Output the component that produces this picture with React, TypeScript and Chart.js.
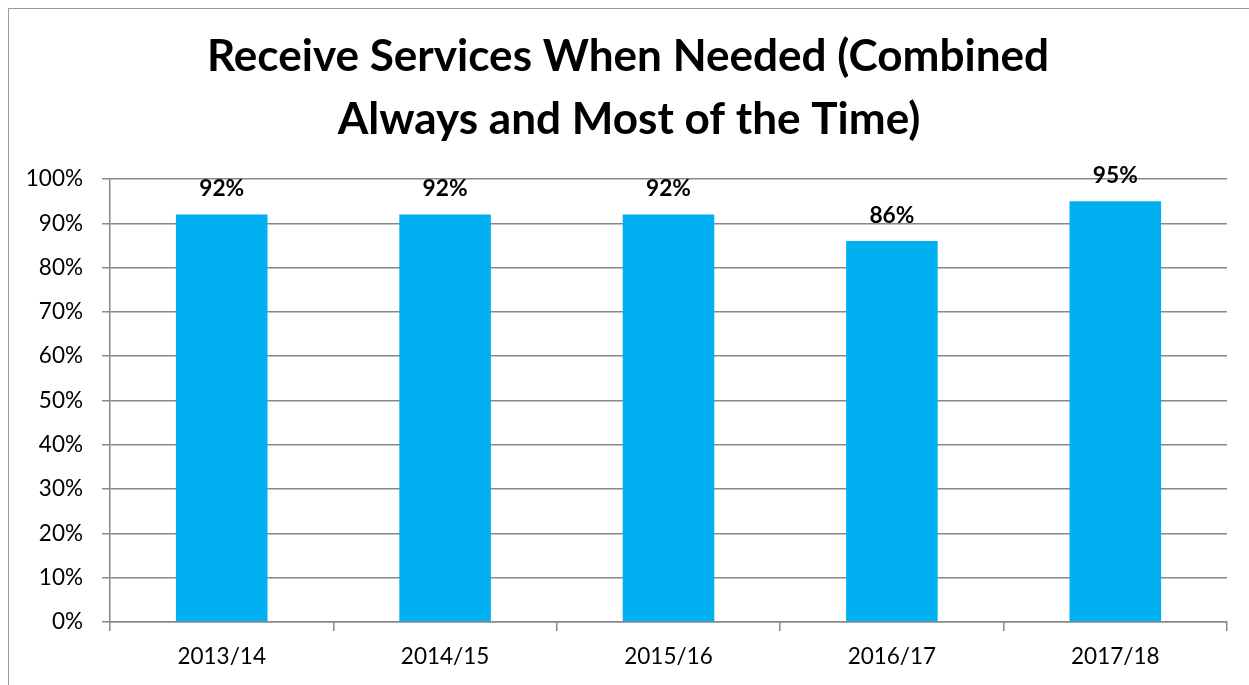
import React, { useEffect, useRef } from "react";
import { Chart, registerables } from "chart.js";

Chart.register(...registerables);

const titleLines = ["Receive Services When Needed (Combined", "Always and Most of the Time)"];
const categories = ["2013/14", "2014/15", "2015/16", "2016/17", "2017/18"];
const values = [92, 92, 92, 86, 95];
const yTicks = [0, 10, 20, 30, 40, 50, 60, 70, 80, 90, 100];

const FAMILY = "Lato, Carlito, Calibri, 'Open Sans', sans-serif";

function fitSize(text: string, target: number, weight: string): number {
  const c = document.createElement("canvas");
  const ctx = c.getContext("2d")!;
  ctx.font = `${weight} 100px ${FAMILY}`;
  const w = ctx.measureText(text).width;
  return (100 * target) / w;
}

export default function App() {
  const ref = useRef<HTMLCanvasElement | null>(null);

  useEffect(() => {
    if (!ref.current) return;
    const tickSize = (fitSize("100%", 57, "normal") + fitSize("2014/15", 89, "normal")) / 2;
    const labelSize = fitSize("92%", 45, "bold");
    const titleSize = (fitSize(titleLines[0], 835, "bold") + fitSize(titleLines[1], 588, "bold")) / 2;

    const titlePlugin = {
      id: "twoLineTitle",
      afterDraw(chart: any) {
        const ctx = chart.ctx;
        ctx.save();
        ctx.font = `bold ${titleSize}px ${FAMILY}`;
        ctx.fillStyle = "#000";
        ctx.textAlign = "center";
        ctx.textBaseline = "alphabetic";
        ctx.fillText(titleLines[0], 619, 62);
        ctx.fillText(titleLines[1], 620, 125);
        ctx.restore();
      },
    };

    const valueLabels = {
      id: "valueLabels",
      afterDatasetsDraw(chart: any) {
        const ctx = chart.ctx;
        const meta = chart.getDatasetMeta(0);
        ctx.save();
        ctx.font = `bold ${labelSize}px ${FAMILY}`;
        ctx.fillStyle = "#000";
        ctx.textAlign = "center";
        ctx.textBaseline = "alphabetic";
        meta.data.forEach((bar: any, i: number) => {
          ctx.fillText(`${values[i]}%`, bar.x, bar.y - 18);
        });
        ctx.restore();
      },
    };

    const chart = new Chart(ref.current, {
      type: "bar",
      data: {
        labels: categories,
        datasets: [
          {
            data: values,
            backgroundColor: "#00B0F0",
            borderWidth: 0,
            barPercentage: 0.41,
            categoryPercentage: 1,
          },
        ],
      },
      options: {
        animation: false,
        responsive: false,
        maintainAspectRatio: false,
        layout: { padding: { top: 170, right: 22, left: 0, bottom: 0 } },
        plugins: {
          legend: { display: false },
          title: { display: false },
          tooltip: { enabled: false },
        },
        scales: {
          x: {
            offset: true,
            grid: {
              display: true,
              offset: true,
              drawOnChartArea: false,
              drawTicks: true,
              tickLength: 9,
              color: "#888888",
              lineWidth: 1.5,
            },
            border: { display: true, color: "#888888", width: 1.5 },
            ticks: {
              color: "#000",
              padding: 12,
              font: { family: FAMILY, size: tickSize },
            },
            afterFit(scale: any) {
              scale.height = 63;
            },
          },
          y: {
            min: 0,
            max: 100,
            afterBuildTicks(scale: any) {
              scale.ticks = yTicks.map((v) => ({ value: v }));
            },
            grid: {
              color: "#888888",
              lineWidth: 1.5,
              drawTicks: true,
              tickLength: 8,
            },
            border: { display: true, color: "#888888", width: 1.5 },
            ticks: {
              color: "#000",
              padding: 19,
              font: { family: FAMILY, size: tickSize },
              callback: (v: any) => `${v}%`,
            },
            afterFit(scale: any) {
              scale.width = 101;
            },
          },
        },
      },
      plugins: [titlePlugin, valueLabels],
    });
    return () => chart.destroy();
  }, []);

  return (
    <div
      style={{
        position: "fixed",
        left: 8,
        top: 8,
        width: 1241,
        height: 677,
        borderLeft: "1px solid #9a9a9a",
        borderTop: "1px solid #9a9a9a",
        background: "#fff",
        overflow: "hidden",
      }}
    >
      <canvas ref={ref} width={1240} height={676} style={{ display: "block", width: 1240, height: 676 }} />
    </div>
  );
}
